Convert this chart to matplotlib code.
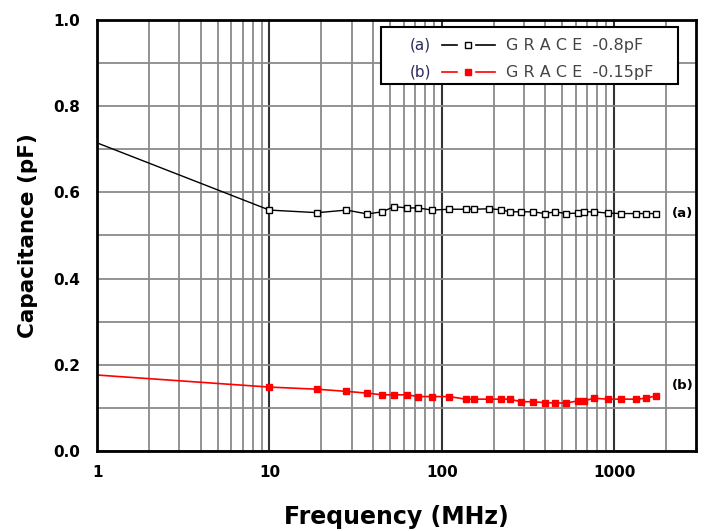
import matplotlib
matplotlib.use("Agg")
import matplotlib.pyplot as plt
from matplotlib.patches import Rectangle
from matplotlib.ticker import FixedLocator, NullFormatter

# frequencies (MHz); first point has no marker
freq = [1, 10, 19, 28, 37, 45, 53, 63, 73, 88, 110, 138, 153, 188, 220, 248,
        288, 338, 397, 454, 526, 618, 669, 765, 922, 1098, 1342, 1535, 1755]
cap_a = [0.715, 0.559, 0.553, 0.559, 0.550, 0.555, 0.567, 0.564, 0.564, 0.559,
         0.561, 0.561, 0.561, 0.562, 0.560, 0.555, 0.555, 0.555, 0.551, 0.555,
         0.551, 0.552, 0.555, 0.555, 0.552, 0.551, 0.551, 0.551, 0.551]
cap_b = [0.176, 0.148, 0.143, 0.138, 0.134, 0.130, 0.130, 0.130, 0.126, 0.126,
         0.126, 0.120, 0.120, 0.120, 0.120, 0.120, 0.114, 0.114, 0.112, 0.111,
         0.111, 0.116, 0.116, 0.122, 0.120, 0.120, 0.120, 0.122, 0.128]
x_ticks = [1, 10, 100, 1000]
x_tick_labels = ['1', '10', '100', '1000']
y_ticks = [0.0, 0.2, 0.4, 0.6, 0.8, 1.0]
legend_tags = ['(a)', '(b)']
legend_names = ['G R A C E  -0.8pF', 'G R A C E  -0.15pF']

fig = plt.figure(figsize=(7.04, 5.31), dpi=100)
ax = fig.add_axes([0.138, 0.151, 0.851, 0.811])

ax.set_xscale('log')
ax.set_xlim(1, 3000)
ax.set_ylim(0, 1.0)

# grid
minor_x = [m * 10 ** d for d in range(0, 4) for m in range(2, 10) if m * 10 ** d < 3000]
ax.xaxis.set_minor_locator(FixedLocator(minor_x))
ax.xaxis.set_minor_formatter(NullFormatter())
ax.yaxis.set_minor_locator(FixedLocator([0.1, 0.3, 0.5, 0.7, 0.9]))
ax.grid(True, which='minor', color='#8a8a8a', lw=1.3)
ax.grid(True, which='major', axis='y', color='#8a8a8a', lw=1.3)
ax.grid(True, which='major', axis='x', color='#333333', lw=1.5)
ax.set_axisbelow(True)
ax.tick_params(which='both', length=0)

ax.plot(freq, cap_a, color='black', lw=1.0, marker='s', ms=4, mfc='white',
        mec='black', mew=1.0, markevery=slice(1, None))
ax.plot(freq, cap_b, color='red', lw=1.2, marker='s', ms=4.5, mfc='red',
        mec='red', markevery=slice(1, None))

ax.text(1.0 - 0.005, 0.551, '(a)', transform=ax.get_yaxis_transform(),
        ha='right', va='center', fontsize=9.5, fontweight='bold')
ax.text(1.0 - 0.005, 0.152, '(b)', transform=ax.get_yaxis_transform(),
        ha='right', va='center', fontsize=9.5, fontweight='bold')

ax.set_xticks(x_ticks)
ax.set_xticklabels(x_tick_labels)
ax.set_yticks(y_ticks)
ax.set_yticklabels(['%.1f' % v for v in y_ticks])
for lab in ax.get_xticklabels() + ax.get_yticklabels():
    lab.set_fontweight('bold')
    lab.set_fontsize(11)
ax.tick_params(axis='x', pad=10)
ax.tick_params(axis='y', pad=12)

for s in ax.spines.values():
    s.set_linewidth(2)

ax.set_xlabel('Frequency (MHz)', fontsize=17, fontweight='bold', va='center')
ax.xaxis.set_label_coords(0.5, -0.153)
ax.set_ylabel('Capacitance (pF)', fontsize=15.5, fontweight='bold', va='center')
ax.yaxis.set_label_coords(-0.115, 0.5)

# legend drawn by hand: tag, sample, name
ax.add_patch(Rectangle((0.474, 0.852), 0.496, 0.132, transform=ax.transAxes,
                       fc='white', ec='black', lw=1.5, zorder=5))
rows = [0.942, 0.879]
styles = [('black', 'white'), ('red', 'red')]
for tag, name, yy, (c, fc) in zip(legend_tags, legend_names, rows, styles):
    ax.text(0.54, yy, tag, transform=ax.transAxes, ha='center', va='center',
            fontsize=11, color='#2b2b5a', zorder=6)
    ax.plot([0.576, 0.600], [yy, yy], color=c, lw=1.2, transform=ax.transAxes, zorder=6)
    ax.plot([0.633, 0.664], [yy, yy], color=c, lw=1.2, transform=ax.transAxes, zorder=6)
    ax.plot([0.619], [yy], marker='s', ms=4, mfc=fc, mec=c, transform=ax.transAxes, zorder=6)
    ax.text(0.683, yy, name, transform=ax.transAxes, ha='left', va='center',
            fontsize=11.5, color='#444444', zorder=6)

fig.savefig('out.png', dpi=100)
